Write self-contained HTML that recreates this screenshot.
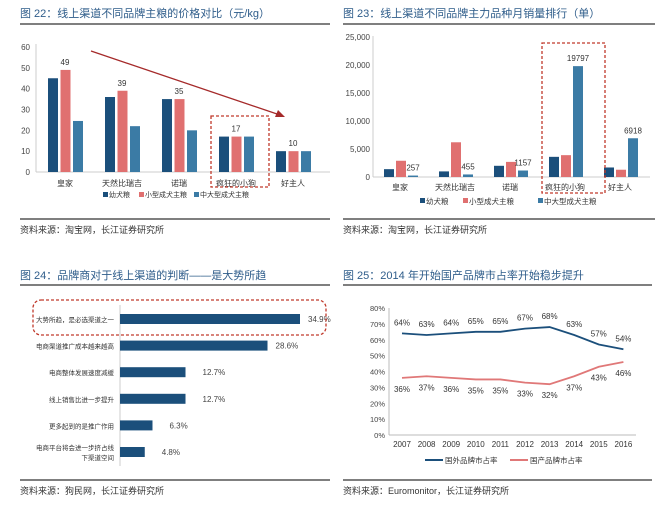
<!DOCTYPE html>
<html><head><meta charset="utf-8"><style>
body{margin:0;background:#fff;}
svg text{font-family:"Liberation Sans","Noto Sans CJK SC",sans-serif;}
</style></head><body>
<svg id="s" width="670" height="519" xmlns="http://www.w3.org/2000/svg">
<g font-size="11" fill="#2e5c8a">
<text x="20" y="17">图 22：线上渠道不同品牌主粮的价格对比（元/kg）</text>
<text x="343" y="17">图 23：线上渠道不同品牌主力品种月销量排行（单）</text>
<text x="20" y="279">图 24：品牌商对于线上渠道的判断——是大势所趋</text>
<text x="343" y="279">图 25：2014 年开始国产品牌市占率开始稳步提升</text>
</g>
<g stroke="#333" stroke-width="1.3">
<line x1="20" y1="24" x2="330" y2="24"/><line x1="343" y1="24" x2="655" y2="24"/>
<line x1="20" y1="219" x2="330" y2="219"/><line x1="343" y1="219" x2="655" y2="219"/>
<line x1="20" y1="285" x2="330" y2="285"/><line x1="343" y1="285" x2="652" y2="285"/>
<line x1="20" y1="480" x2="330" y2="480"/><line x1="343" y1="480" x2="652" y2="480"/>
</g>
<g font-size="9" fill="#333">
<text x="20" y="233">资料来源：淘宝网，长江证券研究所</text>
<text x="343" y="233">资料来源：淘宝网，长江证券研究所</text>
<text x="20" y="494">资料来源：狗民网，长江证券研究所</text>
<text x="343" y="494">资料来源：Euromonitor，长江证券研究所</text>
</g>
<g id="c1"></g>
<g id="c2"></g>
<g id="c3"></g>
<g id="c4"></g>
</svg>
<script>
const brands=["皇家","天然比瑞吉","诺瑞","疯狂的小狗","好主人"];
const seriesNames=["幼犬粮","小型成犬主粮","中大型成犬主粮"];
const price1=[45,36,35,17,10];
const price2=[49,39,35,17,10];
const price3=[24.5,22,20,17,10];
const priceLabels=["49","39","35","17","10"];
const priceTicks=[0,10,20,30,40,50,60];
const sales1=[1400,1000,2000,3600,1700];
const sales2=[2900,6200,2700,3900,1300];
const sales3=[257,455,1157,19797,6918];
const salesTicks=[0,5000,10000,15000,20000,25000];
const judgeCats=["大势所趋，是必选渠道之一","电商渠道推广成本越来越高","电商整体发展速度减缓","线上销售比进一步提升","更多起到的是推广作用","电商平台将会进一步挤占线|下渠道空间"];
const judgeVals=[34.9,28.6,12.7,12.7,6.3,4.8];
const years=["2007","2008","2009","2010","2011","2012","2013","2014","2015","2016"];
const foreignShare=[64,63,64,65,65,67,68,63,57,54];
const domesticShare=[36,37,36,35,35,33,32,37,43,46];
const shareTicks=[0,10,20,30,40,50,60,70,80];
const COLS=["#1b4f7b","#e07070","#3b7ba5"];
const NS="http://www.w3.org/2000/svg";
function el(p,t,a,txt){const e=document.createElementNS(NS,t);for(const k in a)e.setAttribute(k,a[k]);if(txt!=null)e.textContent=txt;p.appendChild(e);return e;}
function fmt(n){return n.toLocaleString("en-US");}

// Chart 22
(function(){
const g=document.getElementById('c1');
const y=v=>172-v*125/60, x0=36, gw=57, cx=i=>65+i*gw;
priceTicks.forEach(t=>{const e=el(g,'text',{x:30,y:y(t)+3,'font-size':8,'text-anchor':'end',fill:'#444'},t);

});
el(g,'line',{x1:x0,y1:44,x2:x0,y2:172,stroke:'#ccc'});
el(g,'line',{x1:x0,y1:172,x2:330,y2:172,stroke:'#ccc'});
const sets=[price1,price2,price3];
brands.forEach((b,i)=>{sets.forEach((s,j)=>{const r=el(g,'rect',{x:cx(i)-17+j*12.5,y:y(s[i]),width:10,height:172-y(s[i]),fill:COLS[j]});

});
const l=el(g,'text',{x:cx(i),y:y(price2[i])-5,'font-size':8,'text-anchor':'middle',fill:'#333'},priceLabels[i]);


const c=el(g,'text',{x:cx(i),y:186,'font-size':8,'text-anchor':'middle',fill:'#333'},b);

});
el(g,'rect',{x:211,y:116,width:58,height:71,fill:'none',stroke:'#c0392b','stroke-dasharray':'3,2','stroke-width':1.3});
el(g,'line',{x1:91,y1:51,x2:280,y2:115,stroke:'#a52a2a','stroke-width':1.3});
el(g,'path',{d:'M285,117 L275,117 L278,110 Z',fill:'#a52a2a'});
seriesNames.forEach((n,j)=>{const lx=[103,139,194][j];el(g,'rect',{x:lx,y:192,width:5,height:5,fill:COLS[j]});
const t=el(g,'text',{x:lx+6,y:197,'font-size':7,fill:'#333'},n);

});
})();

// Chart 23
(function(){
const g=document.getElementById('c2');
const y=v=>177-v*140/25000, x0=373, cx=i=>400+i*55;
salesTicks.forEach(t=>{const e=el(g,'text',{x:370,y:y(t)+3,'font-size':8,'text-anchor':'end',fill:'#444'},fmt(t));

});
el(g,'line',{x1:x0,y1:36,x2:x0,y2:177,stroke:'#ccc'});
el(g,'line',{x1:x0,y1:177,x2:650,y2:177,stroke:'#ccc'});
const sets=[sales1,sales2,sales3];
brands.forEach((b,i)=>{sets.forEach((s,j)=>{const r=el(g,'rect',{x:cx(i)-16+j*12,y:y(s[i]),width:10,height:177-y(s[i]),fill:COLS[j]});

});
const l=el(g,'text',{x:cx(i)+13,y:y(sales3[i])-5,'font-size':8,'text-anchor':'middle',fill:'#333'},sales3[i]);


const c=el(g,'text',{x:cx(i),y:190,'font-size':8,'text-anchor':'middle',fill:'#333'},b);

});
el(g,'rect',{x:542,y:43,width:63,height:150,fill:'none',stroke:'#c0392b','stroke-dasharray':'3,2','stroke-width':1.3});
seriesNames.forEach((n,j)=>{const lx=[420,463,538][j];el(g,'rect',{x:lx,y:198,width:5,height:5,fill:COLS[j]});
const t=el(g,'text',{x:lx+6,y:204,'font-size':7.5,fill:'#333'},n);

});
})();

// Chart 24
(function(){
const g=document.getElementById('c3');
const x0=120, xs=v=>x0+v*180/34.9, yc=i=>319+i*26.6;
el(g,'line',{x1:x0,y1:305,x2:x0,y2:466,stroke:'#ccc'});
judgeCats.forEach((c,i)=>{const r=el(g,'rect',{x:x0,y:yc(i)-5,width:xs(judgeVals[i])-x0,height:10,fill:'#1b4f7b'});


const parts=c.split('|');parts.forEach((p,k)=>{const t=el(g,'text',{x:114,y:yc(i)+3+(k-(parts.length-1)/2)*10,'font-size':6.5,'text-anchor':'end',fill:'#333'},p);

});
const v=el(g,'text',{x:xs(judgeVals[i])+ (i<2?8:17),y:yc(i)+3,'font-size':8,fill:'#444'},judgeVals[i].toFixed(1)+'%');

});
el(g,'rect',{x:33,y:300,width:293,height:35,rx:8,fill:'none',stroke:'#c0392b','stroke-dasharray':'3,2','stroke-width':1.3});
})();

// Chart 25
(function(){
const g=document.getElementById('c4');
const y=v=>435-v*127/80, x=i=>402+i*24.6;
shareTicks.forEach(t=>{const e=el(g,'text',{x:385,y:y(t)+3,'font-size':7.5,'text-anchor':'end',fill:'#444'},t+'%');

});
el(g,'line',{x1:389,y1:y(80),x2:389,y2:435,stroke:'#bbb'});
el(g,'line',{x1:389,y1:435,x2:636,y2:435,stroke:'#bbb'});
years.forEach((yr,i)=>{const t=el(g,'text',{x:x(i),y:447,'font-size':8,'text-anchor':'middle',fill:'#333'},yr);

});
const lines=[[foreignShare,'#1b4f7b',-1],[domesticShare,'#e07878',1]];
lines.forEach(([d,c,s],k)=>{const p=el(g,'polyline',{points:d.map((v,i)=>x(i)+','+y(v)).join(' '),fill:'none',stroke:c,'stroke-width':1.8});


d.forEach((v,i)=>{const t=el(g,'text',{x:x(i),y:y(v)+(s<0?-8:14),'font-size':8,'text-anchor':'middle',fill:'#333'},v+'%');

});});
el(g,'line',{x1:425,y1:460,x2:443,y2:460,stroke:'#1b4f7b','stroke-width':2});
const a=el(g,'text',{x:445,y:463,'font-size':7.5,fill:'#333'},'国外品牌市占率');


el(g,'line',{x1:510,y1:460,x2:528,y2:460,stroke:'#e07878','stroke-width':2});
const b=el(g,'text',{x:530,y:463,'font-size':7.5,fill:'#333'},'国产品牌市占率');


})();
</script>
</body></html>
